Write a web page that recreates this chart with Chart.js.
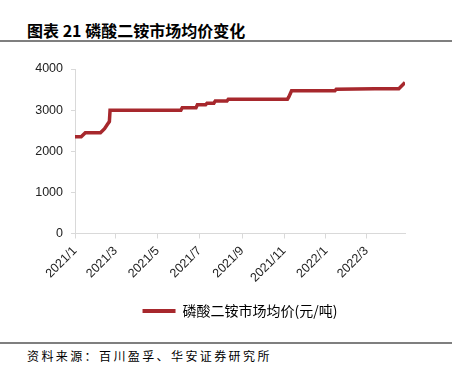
<!DOCTYPE html>
<html>
<head>
<meta charset="utf-8">
<script src="https://cdn.jsdelivr.net/npm/chart.js@4/dist/chart.umd.min.js"></script>
<style>
  html, body { margin: 0; padding: 0; background: #fff; }
  body { width: 452px; height: 369px; position: relative; overflow: hidden; }
  #title { position: absolute; left: 27px; top: 18px; font: bold 16px "Noto Sans CJK SC", sans-serif; color: #000; white-space: nowrap; }
  #topline { position: absolute; left: 0; top: 40px; width: 452px; height: 2px; background: #7f7f7f; }
  #botline { position: absolute; left: 0; top: 342px; width: 452px; height: 2px; background: #7f7f7f; }
  #source { position: absolute; left: 27px; top: 347px; font: 12px "Noto Sans CJK SC", sans-serif; letter-spacing: 2.4px; color: #000; white-space: nowrap; }
  #wrap { position: absolute; left: 0; top: 50px; width: 452px; height: 290px; }
</style>
</head>
<body>
<div id="title">图表 21 磷酸二铵市场均价变化</div>
<div id="topline"></div>
<div id="wrap"><canvas id="c"></canvas></div>
<div id="botline"></div>
<div id="source">资料来源：百川盈孚、华安证券研究所</div>
<script>
// Data
const seriesName = '磷酸二铵市场均价(元/吨)';
const dates = [
  '2021-01-01','2021-01-10','2021-01-16','2021-02-07','2021-02-13','2021-02-17','2021-02-20','2021-02-21',
  '2021-06-04','2021-06-06','2021-06-26','2021-06-28','2021-07-10','2021-07-12','2021-07-22','2021-07-24',
  '2021-08-10','2021-08-12','2021-11-06','2021-11-08','2021-11-12','2022-01-14','2022-01-16','2022-03-13',
  '2022-04-17','2022-04-26'
];
const prices = [
  2350, 2350, 2450, 2450, 2550, 2650, 2720, 3000,
  3000, 3060, 3060, 3130, 3130, 3170, 3170, 3220,
  3220, 3265, 3265, 3320, 3470, 3470, 3510, 3520,
  3520, 3670
];
const tickLabels = ['2021/1','2021/3','2021/5','2021/7','2021/9','2021/11','2022/1','2022/3'];
const yTicks = [0, 1000, 2000, 3000, 4000];

const DAY = 86400000;
const origin = Date.UTC(2021, 0, 1);
function dayOf(s) {
  const p = s.split(/[-\/]/).map(Number);
  return Math.round((Date.UTC(p[0], p[1] - 1, p[2] || 1) - origin) / DAY);
}
const points = dates.map((d, i) => ({ x: dayOf(d), y: prices[i] }));
const tickPos = tickLabels.map(l => dayOf(l));
const labelAt = {};
tickPos.forEach((p, i) => { labelAt[p] = tickLabels[i]; });

const RED = '#a7282d';
const AXIS = '#d9d9d9';

new Chart(document.getElementById('c'), {
  type: 'line',
  data: {
    datasets: [{
      label: seriesName,
      data: points,
      borderColor: RED,
      backgroundColor: RED,
      borderWidth: 3.5,
      pointRadius: 0,
      tension: 0,
      fill: false
    }]
  },
  options: {
    responsive: true,
    maintainAspectRatio: false,
    animation: false,
    layout: { padding: { top: 19, right: 47, left: 0, bottom: 12 } },
    plugins: {
      tooltip: { enabled: false },
      legend: {
        position: 'bottom',
        fullSize: false,
        labels: {
          boxWidth: 33,
          boxHeight: 4,
          padding: 10,
          color: '#000',
          font: { family: '"Noto Sans CJK SC", sans-serif', size: 14 },
          generateLabels: (chart) => chart.data.datasets.map((ds, i) => ({
            text: ds.label, fillStyle: RED, strokeStyle: RED, lineWidth: 0, datasetIndex: i
          }))
        }
      }
    },
    scales: {
      x: {
        type: 'linear',
        min: 0,
        max: points[points.length - 1].x,
        afterFit: s => { s.height = 60.5; },
        afterBuildTicks: s => { s.ticks = tickPos.map(v => ({ value: v })); },
        border: { display: true, color: AXIS, width: 1 },
        grid: { display: true, drawOnChartArea: false, drawTicks: true, tickLength: 5, color: AXIS },
        ticks: {
          autoSkip: false,
          minRotation: 45,
          maxRotation: 45,
          padding: 5,
          color: '#222',
          font: { family: '"Liberation Sans", Arial, sans-serif', size: 12.5 },
          callback: v => labelAt[v]
        }
      },
      y: {
        min: 0,
        max: 4000,
        afterFit: s => { s.width = 75; },
        afterBuildTicks: s => { s.ticks = yTicks.map(v => ({ value: v })); },
        border: { display: true, color: AXIS, width: 1 },
        grid: { display: true, drawOnChartArea: false, drawTicks: true, tickLength: 4, color: AXIS },
        ticks: {
          padding: 8,
          color: '#222',
          font: { family: '"Liberation Sans", Arial, sans-serif', size: 12.5 },
          callback: v => String(v)
        }
      }
    }
  }
});
</script>
</body>
</html>
